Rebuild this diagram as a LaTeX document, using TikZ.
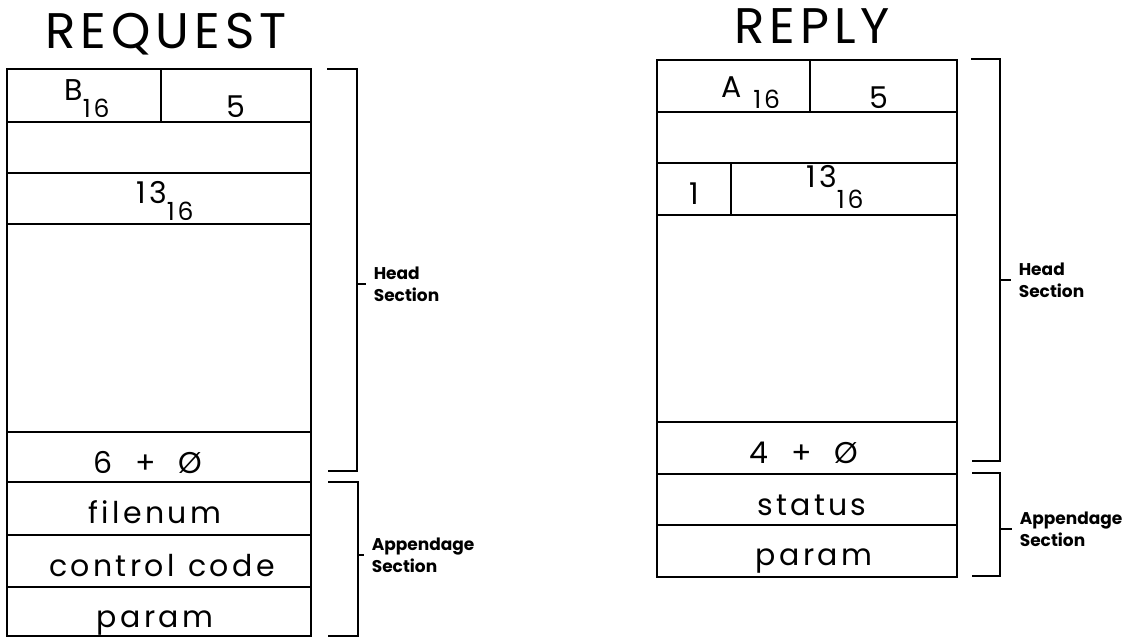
\documentclass[tikz,border=0pt]{standalone}
\usepackage{fontspec}
\setmainfont{Poppins}
\usepackage{tikz}
\newcommand{\hsub}[2]{\lower#1\hbox{\fontsize{25}{25}\selectfont#2}}

\begin{document}
\begin{tikzpicture}[x=1pt,y=-1pt,line width=1.6pt]

  \tikzstyle{title}=[anchor=base,inner sep=0pt,
                     font=\fontsize{50}{50}\selectfont\addfontfeature{LetterSpace=10}]
  \tikzstyle{field}=[anchor=base,inner sep=0pt,
                     font=\fontsize{30}{30}\selectfont\addfontfeature{LetterSpace=11}]
  \tikzstyle{label}=[anchor=west,align=left,inner sep=0pt,inner xsep=7pt,
                     font=\bfseries\fontsize{17}{22}\selectfont]

  \useasboundingbox (0,0) rectangle (1127,637);

  % request
  \path (166,48) node[title](rqtitle){REQUEST};
  \draw (7,69) rectangle (311,636);
  \foreach \y in {122,173,224,432,482,535,587}
    \draw (7,\y) -- (311,\y);
  \draw (161,69) -- (161,122);

  \path
  (87,100)  node[field](rqcode){B\hsub{17pt}{16}}
  (236,117) node[field](rqlen){5}
  (165,203) node[field](rqfn){13\hsub{17pt}{16}}
  (148,473) node[field](rqsize){6\ \ +\ \ Ø}
  (155,523) node[field](rqfile){filenum}
  (162,576) node[field](rqctl){control\hspace{14pt}code}
  (155,627) node[field](rqparam){param};

  \path
  (366,284) node[label](rqhead){Head\\Section}
  (364,555) node[label](rqapp){Appendage\\Section};
  \coordinate (rqhm) at (357,284);
  \coordinate (rqam) at (358,555);
  \draw (327,69) -- (357,69) -- (357,471) -- (328,471);
  \draw (328,482) -- (358,482) -- (358,636) -- (328,636);
  \draw (rqhm) -- (rqhead.west);
  \draw (rqam) -- (rqapp.west);

  % reply
  \path (812,43) node[title](rptitle){REPLY};
  \draw (657,60) rectangle (957,577);
  \foreach \y in {112,163,215,422,474,525}
    \draw (657,\y) -- (957,\y);
  \draw (810,60) -- (810,112);
  \draw (731,163) -- (731,215);

  \path
  (751,97)  node[field](rpcode){A\ \hsub{11pt}{16}}
  (879,108) node[field](rplen){5}
  (694,204) node[field](rpone){1}
  (835,187) node[field](rpfn){13\hsub{21pt}{16}}
  (804,463) node[field](rpsize){4\ \ +\ \ Ø}
  (812,515) node[field](rpstat){status}
  (814,565) node[field](rpparam){param};

  \path
  (1011,280) node[label](rphead){Head\\Section}
  (1012,529) node[label](rpapp){Appendage\\Section};
  \coordinate (rphm) at (1000,280);
  \coordinate (rpam) at (1000,529);
  \draw (971,59) -- (1000,59) -- (1000,461) -- (972,461);
  \draw (972,473) -- (1000,473) -- (1000,576) -- (972,576);
  \draw (rphm) -- (rphead.west);
  \draw (rpam) -- (rpapp.west);

\end{tikzpicture}
\end{document}
